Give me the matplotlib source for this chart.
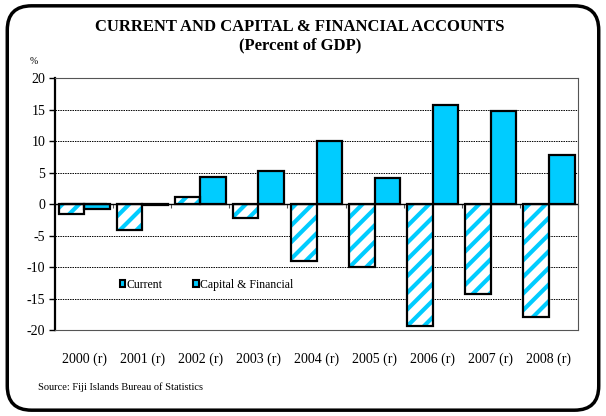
import numpy as np
import matplotlib.pyplot as plt
from matplotlib.patches import FancyBboxPatch

years = ['2000 (r)', '2001 (r)', '2002 (r)', '2003 (r)', '2004 (r)',
         '2005 (r)', '2006 (r)', '2007 (r)', '2008 (r)']
current = [-1.65, -4.1, 1.1, -2.2, -9.1, -9.95, -19.4, -14.3, -18.0]
capital = [-0.85, -0.1, 4.3, 5.3, 10.0, 4.2, 15.65, 14.7, 7.7]

cyan = '#00CCFF'
plt.rcParams['font.family'] = ['Liberation Serif', 'DejaVu Serif']
plt.rcParams['hatch.linewidth'] = 3.0
plt.rcParams['axes.unicode_minus'] = False

fig = plt.figure(figsize=(6.06, 4.16), dpi=100)
ax = fig.add_axes([0.0908, 0.2067, 0.863, 0.6058])

x = np.arange(len(years))
w = 0.44
# hatched current bars: cyan stripes on white, then black outline
ax.bar(x - w / 2, current, w, color='white', edgecolor=cyan, hatch='//', linewidth=0, zorder=3)
ax.bar(x - w / 2, current, w, fill=False, edgecolor='black', linewidth=1.6, zorder=4)
ax.bar(x + w / 2, capital, w, color=cyan, edgecolor='black', linewidth=1.6, zorder=3)

# legend proxies
h1 = ax.bar([0], [0], color=cyan, edgecolor='black', linewidth=1.5)
h2 = ax.bar([0], [0], color=cyan, edgecolor='black', linewidth=1.5)
ax.legend([h1, h2], ['Current', 'Capital & Financial'], loc='center',
          bbox_to_anchor=(0.29, 0.18), ncol=2, frameon=False, fontsize=8.5,
          handlelength=0.45, handleheight=0.45, handletextpad=0.15, columnspacing=2.6)

ax.set_xlim(-0.5, len(years) - 0.5)
ax.set_ylim(-20, 20)
ax.set_yticks(np.arange(-20, 21, 5))
ax.set_xticks(x)
ax.set_xticklabels(years, fontsize=10)
ax.tick_params(axis='x', length=0, pad=16)
ax.tick_params(axis='y', labelsize=10, length=4, width=1, direction='out', pad=3)
ax.grid(axis='y', color='black', linestyle=(0, (1.5, 1)), linewidth=0.7, zorder=0)

ax.spines['left'].set_linewidth(1.6)
ax.spines['left'].set_color('black')
for s in ['top', 'right', 'bottom']:
    ax.spines[s].set_color('#555555')
    ax.spines[s].set_linewidth(0.8)

# zero line with category separator ticks
ax.axhline(0, color='black', linewidth=1, zorder=5)
sec = ax.secondary_xaxis(0.5)
sec.set_xticks(np.arange(-0.5, len(years), 1.0))
sec.tick_params(axis='x', direction='out', length=3, width=0.8, color='#555555')
sec.spines['bottom'].set_visible(False)
sec.spines['top'].set_visible(False)
sec.xaxis.set_ticks_position('bottom')
sec.set_xticklabels([])

fig.text(0.495, 0.935, 'CURRENT AND CAPITAL & FINANCIAL ACCOUNTS', ha='center', va='center',
         fontsize=12, fontweight='bold')
fig.text(0.495, 0.892, '(Percent of GDP)', ha='center', va='center',
         fontsize=12, fontweight='bold')
fig.text(0.055, 0.851, '%', ha='center', va='center', fontsize=7)
fig.text(0.063, 0.07, 'Source: Fiji Islands Bureau of Statistics', ha='left', va='center', fontsize=7.5)

border = FancyBboxPatch((0.012, 0.014), 0.976, 0.972, boxstyle='round,pad=0,rounding_size=0.04',
                        transform=fig.transFigure, facecolor='none', edgecolor='black',
                        linewidth=2.5, mutation_aspect=606 / 416)
fig.patches.append(border)

fig.savefig('out.png', dpi=100)
